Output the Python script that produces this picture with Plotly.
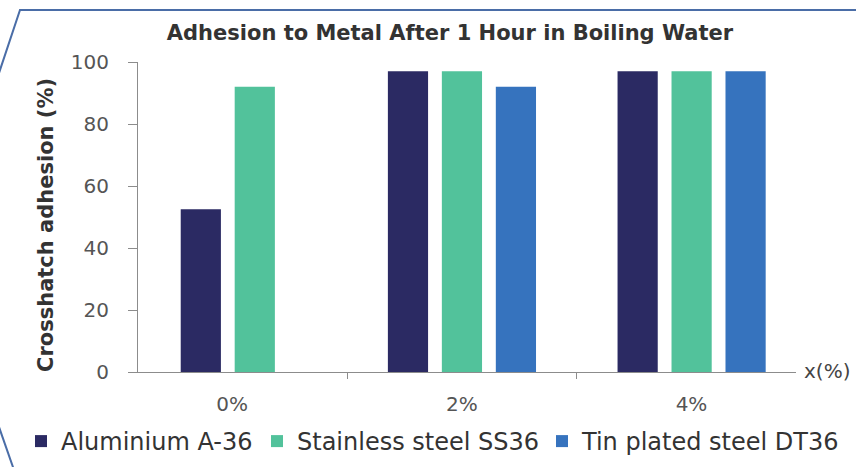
import plotly.graph_objects as go

categories = ["0%", "2%", "4%"]
series_names = ["Aluminium A-36", "Stainless steel SS36", "Tin plated steel DT36"]
aluminium = [52.5, 97, 97]
stainless = [92, 97, 97]
tin_plated = [None, 92, 97]
y_ticks = [0, 20, 40, 60, 80, 100]

colors = ["#2B2A63", "#52C29B", "#3673BE"]
# left-edge offsets of bars inside each category (category units)
bar_width = 0.175
offsets = [
    [-0.224, -0.322, -0.322],
    [0.011, -0.087, -0.087],
    [0.148, 0.148, 0.148],
]

W, H = 856, 467
L, R, T, B = 138, 60, 62, 95
pw, ph = W - L - R, H - T - B

def px(xp):
    return (xp - L) / pw

def py(yp):
    return (H - B - yp) / ph

legend_ids = ["legend", "legend2", "legend3"]
legend_x = [21, 257, 542]

fig = go.Figure()
for name, vals, col, off, lg in zip(series_names, [aluminium, stainless, tin_plated], colors, offsets, legend_ids):
    fig.add_trace(go.Bar(
        x=categories, y=vals, name=name,
        marker=dict(color=col, line=dict(width=0)),
        width=bar_width, offset=off, legend=lg,
    ))

font_main = "DejaVu Sans"
legend_style = dict(
    orientation="h", xanchor="left", y=py(419), yanchor="top",
    font=dict(size=24, color="#333333", family=font_main),
    bgcolor="rgba(0,0,0,0)",
)
fig.update_layout(
    width=W, height=H,
    margin=dict(l=L, r=R, t=T, b=B, autoexpand=False),
    paper_bgcolor="white", plot_bgcolor="white",
    barmode="overlay",
    font=dict(family=font_main, color="#444444"),
    title=dict(
        text="<b>Adhesion to Metal After 1 Hour in Boiling Water</b>",
        x=px(450), xanchor="center", xref="paper",
        y=1 - 33 / H, yanchor="middle", yref="container",
        font=dict(size=21, color="#333333", family=font_main),
    ),
    xaxis=dict(
        type="category", range=[-0.41, 2.455],
        showline=True, linecolor="#8c8c8c", linewidth=1,
        ticks="outside", tickson="boundaries", ticklen=6, tickcolor="#8c8c8c",
        tickfont=dict(size=20, color="#555555"),
        showgrid=False, zeroline=False,
        ticklabelstandoff=14,
    ),
    yaxis=dict(
        range=[0, 100], tickvals=y_ticks,
        showline=True, linecolor="#8c8c8c", linewidth=1,
        ticks="outside", ticklen=9, tickcolor="#8c8c8c",
        tickfont=dict(size=20, color="#555555"),
        showgrid=False, zeroline=False,
        ticklabelstandoff=15,
    ),
    showlegend=True,
    legend=dict(x=px(legend_x[0]), **legend_style),
    legend2=dict(x=px(legend_x[1]), **legend_style),
    legend3=dict(x=px(legend_x[2]), **legend_style),
)

# y-axis title
fig.add_annotation(
    text="<b>Crosshatch adhesion (%)</b>", textangle=-90,
    xref="paper", yref="paper", x=px(46), y=py(225),
    xanchor="center", yanchor="middle", showarrow=False,
    font=dict(size=21, color="#333333", family=font_main),
)
# x-axis unit label
fig.add_annotation(
    text="x(%)", xref="paper", yref="paper", x=px(802), y=py(371),
    xanchor="left", yanchor="middle", showarrow=False,
    font=dict(size=20, color="#444444", family=font_main),
)

# decorative frame lines
frame_col = "#4A6DA7"
fig.add_shape(type="path",
              path=f"M {px(860)},{py(10)} L {px(20)},{py(10)} L {px(-2)},{py(76)}",
              xref="paper", yref="paper", line=dict(color=frame_col, width=2))
fig.add_shape(type="line", xref="paper", yref="paper",
              x0=px(-1), y0=py(427), x1=px(14), y1=py(470),
              line=dict(color=frame_col, width=2))

fig.write_html("out.html")
